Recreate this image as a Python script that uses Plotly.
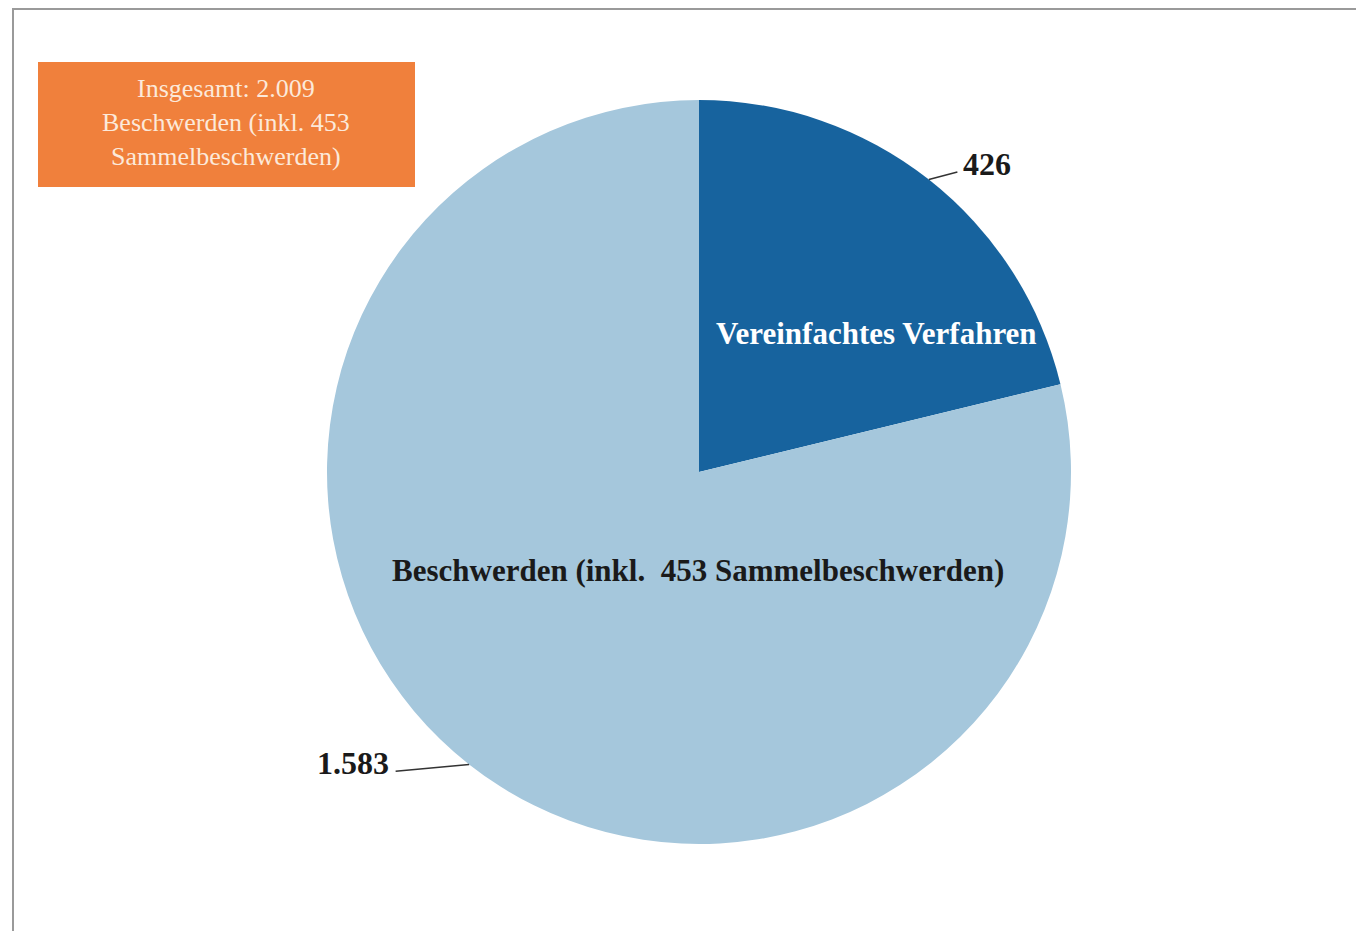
import math
import plotly.graph_objects as go

categories = ["Vereinfachtes Verfahren", "Beschwerden (inkl.  453 Sammelbeschwerden)"]
values = [426, 1583]
value_labels = ["426", "1.583"]
colors = ["#17639E", "#A5C7DC"]
total_text = "Insgesamt: 2.009<br>Beschwerden (inkl. 453<br>Sammelbeschwerden)"

W, H = 1364, 931
OFF = 8  # page body margin
cx, cy, r = 699 - OFF, 472 - OFF, 372
SERIF = "Liberation Serif"


def px(x):
    return (x - OFF) / W


def py(y):
    return 1 - (y - OFF) / H


fig = go.Figure(go.Pie(
    labels=categories,
    values=values,
    marker=dict(colors=colors, line=dict(width=0)),
    sort=False,
    direction="clockwise",
    rotation=0,
    textinfo="none",
    hoverinfo="label+value",
    showlegend=False,
    domain=dict(x=[(cx - r) / W, (cx + r) / W], y=[1 - (cy + r) / H, 1 - (cy - r) / H]),
))

annotations = []
shapes = []
# frame
shapes.append(dict(type="rect", xref="paper", yref="paper",
                   x0=px(13), x1=1.05, y0=-0.05, y1=py(9),
                   line=dict(color="#9a9a9a", width=2), fillcolor="rgba(0,0,0,0)", layer="below"))
# orange box
shapes.append(dict(type="rect", xref="paper", yref="paper",
                   x0=px(38), x1=px(415), y0=py(187), y1=py(62),
                   line=dict(width=0), fillcolor="#F0803C"))
annotations.append(dict(xref="paper", yref="paper", x=px(226), y=py(123),
                        xanchor="center", yanchor="middle",
                        text=total_text, showarrow=False, align="center",
                        font=dict(family=SERIF, size=26, color="#FCE9DA")))

tot = sum(values)
cum = 0
label_offsets = [(30, -8), (-75, 7)]
label_anchor = ["left", "right"]
in_label_pos = [(876, 333), (698, 570)]
in_label_color = ["#FFFFFF", "#1a1a1a"]
for i, v in enumerate(values):
    mid = (cum + v / 2) / tot * 2 * math.pi
    cum += v
    ex = cx + r * math.sin(mid)
    ey = cy - r * math.cos(mid)
    dx, dy = label_offsets[i]
    annotations.append(dict(xref="paper", yref="paper", x=ex / W, y=1 - ey / H,
                            ax=dx, ay=dy, axref="pixel", ayref="pixel",
                            text="", showarrow=True, arrowhead=0, arrowwidth=1.5,
                            arrowcolor="#333333", standoff=0, startstandoff=0))
    tx = ex + dx + (2 if dx > 0 else -3)
    annotations.append(dict(xref="paper", yref="paper", x=tx / W, y=1 - (ey + dy - 8) / H,
                            text="<b>%s</b>" % value_labels[i], showarrow=False,
                            xanchor=label_anchor[i], yanchor="middle",
                            font=dict(family=SERIF, size=32, color="#1a1a1a")))
    lx, ly = in_label_pos[i]
    annotations.append(dict(xref="paper", yref="paper", x=px(lx), y=py(ly),
                            xanchor="center", yanchor="middle",
                            text="<b>%s</b>" % categories[i], showarrow=False,
                            font=dict(family=SERIF, size=31, color=in_label_color[i])))

fig.update_layout(
    width=W, height=H,
    margin=dict(l=0, r=0, t=0, b=0),
    paper_bgcolor="white", plot_bgcolor="white",
    shapes=shapes, annotations=annotations,
)
fig.write_html("out.html")
